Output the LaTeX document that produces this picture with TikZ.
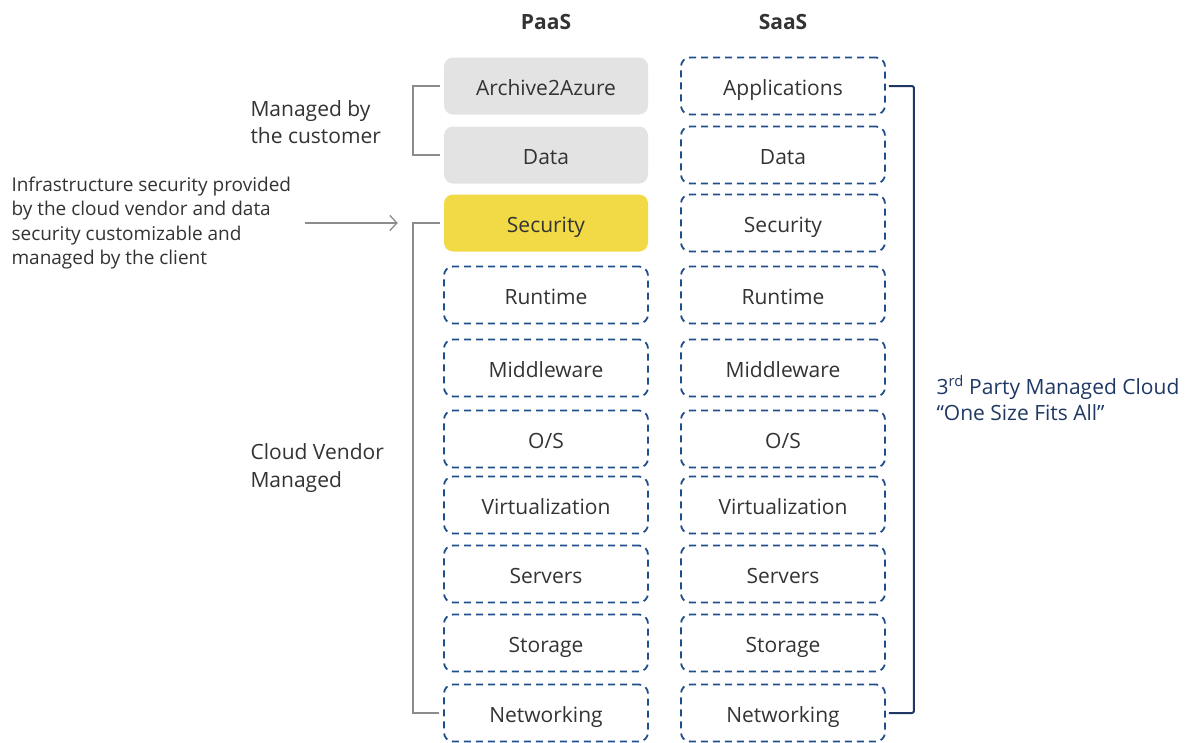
\documentclass[tikz,border=0pt]{standalone}
\usepackage{fontspec}
\setmainfont{Open Sans}
\usetikzlibrary{positioning,arrows.meta}

\definecolor{boxgrey}{HTML}{E3E3E3}
\definecolor{secyellow}{HTML}{F1DA45}
\definecolor{dashblue}{HTML}{1F4E8C}
\definecolor{navy}{HTML}{1F3864}
\definecolor{txtgrey}{HTML}{333333}
\definecolor{bracketgrey}{HTML}{8C8C8C}

\begin{document}
\begin{tikzpicture}[x=1pt,y=-1pt]
	\tikzset{layer/.style={rounded corners=9pt,minimum width=204pt,minimum height=57pt,inner sep=0pt,text height=20pt,text depth=2pt,text=txtgrey,font=\fontsize{21}{25}\selectfont},
		own/.style={layer,fill=boxgrey},
		shared/.style={layer,fill=secyellow},
		vendor/.style={layer,draw=dashblue,line width=1.8pt,dash pattern=on 7pt off 5pt},
		brace/.style={draw=bracketgrey,line width=1.5pt},
		note/.style={anchor=west,align=left,text=txtgrey,font=\fontsize{21}{27.5}\selectfont}}
	\useasboundingbox (0,0) rectangle (1192,742);

	%% column headers
	\node[font=\bfseries\fontsize{21}{25}\selectfont,text=txtgrey] (paas) at (546,22) {PaaS};
	\node[font=\bfseries\fontsize{21}{25}\selectfont,text=txtgrey] (saas) at (783,22) {SaaS};

	%% PaaS stack
	\node[own] (p-app) at (546,86) {Archive2Azure};
	\node[own] (p-data) at (546,155) {Data};
	\node[shared] (p-sec) at (546,223) {Security};
	\node[vendor] (p-run) at (546,295) {Runtime};
	\node[vendor] (p-mid) at (546,368) {Middleware};
	\node[vendor] (p-os) at (546,439) {O/S};
	\node[vendor] (p-virt) at (546,505) {Virtualization};
	\node[vendor] (p-srv) at (546,574) {Servers};
	\node[vendor] (p-sto) at (546,643) {Storage};
	\node[vendor] (p-net) at (546,713) {Networking};

	%% SaaS stack
	\node[vendor] (s-app) at (783,86) {Applications};
	\node[vendor] (s-data) at (783,155) {Data};
	\node[vendor] (s-sec) at (783,223) {Security};
	\node[vendor] (s-run) at (783,295) {Runtime};
	\node[vendor] (s-mid) at (783,368) {Middleware};
	\node[vendor] (s-os) at (783,439) {O/S};
	\node[vendor] (s-virt) at (783,505) {Virtualization};
	\node[vendor] (s-srv) at (783,574) {Servers};
	\node[vendor] (s-sto) at (783,643) {Storage};
	\node[vendor] (s-net) at (783,713) {Networking};

	%% left side
	\draw[brace] ([xshift=-4pt]p-app.west) -- ++(-27,0) |- ([xshift=-4pt]p-data.west);
	\node[note] (cust) at (247,122) {Managed by\\the customer};
	\draw[brace] ([xshift=-4pt]p-sec.west) -- ++(-27,0) |- ([xshift=-4pt]p-net.west);
	\node[note] (vend) at (247,468) {Cloud Vendor\\Managed};
	\node[note,font=\fontsize{19}{24.5}\selectfont] (infra) at (8,223) {Infrastructure security provided\\by the cloud vendor and data\\security customizable and\\managed by the client};
	\draw[bracketgrey,line width=1.3pt,-{Straight Barb[length=7pt,width=15pt]}] (305,0 |- p-sec) -- ([xshift=-46pt]p-sec.west);

	%% right side
	\draw[navy,line width=2pt,rounded corners=2pt] ([xshift=3pt]s-app.east) -- ++(25,0) |- ([xshift=3pt]s-net.east);
	\node[note,text=navy,font=\fontsize{21}{26}\selectfont] (third) at (933,398) {3\textsuperscript{rd} Party Managed Cloud\\“One Size Fits All”};
\end{tikzpicture}
\end{document}
